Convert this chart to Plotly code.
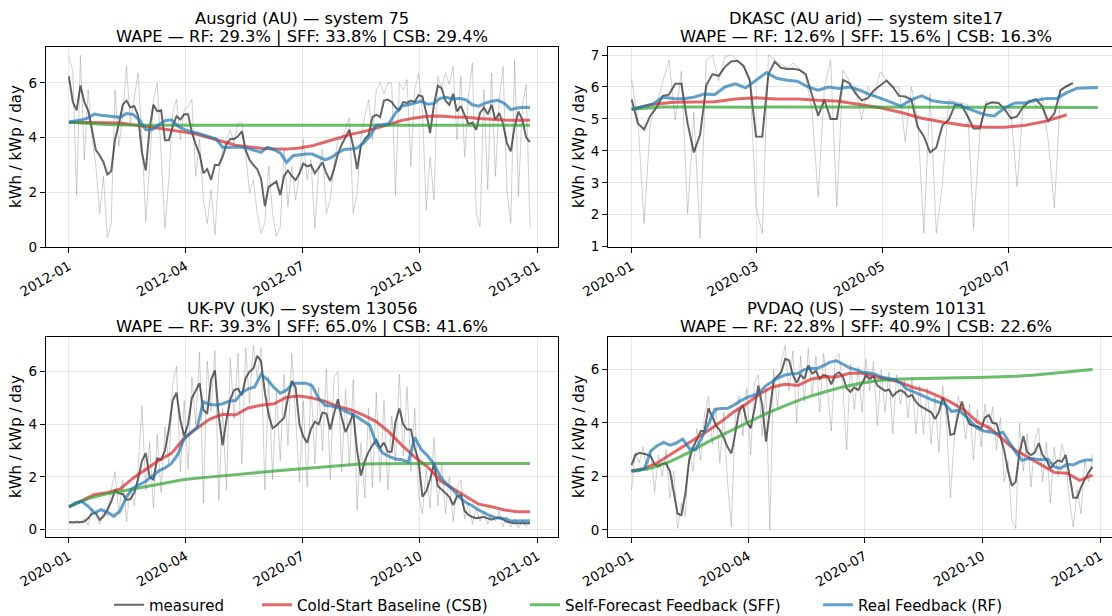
import pandas as pd
import plotly.graph_objects as go

FIG_W, FIG_H = 1112, 616
FONT = "DejaVu Sans"

# sampling interval (days) of each stored series
RAW_STEP, MEAS_STEP, CSB_STEP, SFF_STEP, RF_STEP = 3, 3, 10, 15, 5

# ---------------- Ausgrid (AU), system 75, 2012 ----------------
ausgrid_start = "2012-01-01"
ausgrid_raw = [
    6.97, 6.4, 1.9, 7.0, 3.2, 5.75, 4.05, 3.0, 1.24, 2.58,
    0.33, 0.87, 5.75, 3.68, 4.8, 6.6, 4.53, 5.5, 6.36, 4.0,
    0.94, 3.0, 5.39, 6.0, 3.3, 0.69, 2.46, 4.9, 5.39, 3.93,
    5.02, 5.14, 5.39, 2.58, 3.93, 1.73, 0.87, 2.1, 0.45, 2.7,
    3.56, 3.93, 4.29, 3.8, 4.53, 4.53, 3.44, 1.97, 2.46, 1.24,
    0.51, 0.87, 2.95, 1.24, 0.39, 0.75, 3.56, 1.49, 2.95, 1.73,
    2.7, 3.93, 2.46, 3.2, 0.69, 2.8, 3.56, 1.24, 1.73, 3.0,
    3.93, 3.93, 4.3, 4.72, 1.24, 1.97, 4.0, 4.78, 5.39, 3.93,
    5.75, 6.0, 5.6, 6.0, 6.0, 1.9, 6.0, 5.75, 6.12, 2.95,
    5.75, 6.36, 5.0, 1.36, 3.3, 1.73, 6.24, 5.8, 6.36, 5.94,
    6.6, 3.93, 6.24, 3.3, 5.5, 6.73, 1.24, 0.75, 5.75, 2.1,
    6.36, 2.58, 5.39, 6.6, 2.1, 0.87, 6.85, 1.85, 5.14, 5.94,
    0.69,
]
ausgrid_measured = [
    6.24, 5.3, 5.0, 5.9, 5.3, 5.0, 4.29, 3.55, 3.35, 3.1,
    2.65, 2.77, 3.93, 4.5, 5.2, 5.35, 5.1, 5.15, 4.8, 3.44,
    2.8, 4.35, 5.2, 4.96, 5.0, 3.9, 3.9, 4.4, 4.78, 4.66,
    4.85, 4.85, 4.2, 3.75, 3.4, 2.7, 2.85, 2.46, 3.0, 3.0,
    3.3, 3.75, 3.95, 3.95, 4.05, 4.23, 3.55, 3.19, 3.0, 2.85,
    2.5, 1.5, 2.2, 2.3, 2.4, 1.9, 2.6, 2.8, 2.6, 2.45,
    2.7, 3.05, 2.95, 3.0, 2.7, 2.9, 3.1, 2.7, 2.42, 2.85,
    3.4, 3.75, 4.0, 4.29, 3.68, 2.85, 3.7, 3.95, 4.1, 4.75,
    4.84, 4.75, 5.35, 5.39, 5.3, 5.1, 5.0, 5.3, 5.27, 5.35,
    5.3, 5.55, 5.5, 4.9, 4.17, 5.2, 5.9, 5.8, 5.35, 5.2,
    5.6, 4.96, 5.15, 4.8, 4.5, 4.55, 4.29, 4.9, 5.1, 4.85,
    5.2, 4.65, 4.9, 4.5, 3.8, 3.5, 4.41, 4.95, 4.66, 4.0,
    3.84,
]
ausgrid_csb = [
    4.56, 4.56, 4.55, 4.54, 4.53, 4.48, 4.41, 4.34, 4.28, 4.2,
    4.12, 4.0, 3.86, 3.72, 3.66, 3.61, 3.58, 3.58, 3.62, 3.7,
    3.84, 3.98, 4.12, 4.22, 4.34, 4.48, 4.63, 4.72, 4.78, 4.79,
    4.75, 4.74, 4.7, 4.66, 4.64, 4.63, 4.63,
]
ausgrid_sff = [
    4.56, 4.51, 4.48, 4.46, 4.45, 4.45, 4.45, 4.45, 4.45, 4.45,
    4.45, 4.45, 4.45, 4.45, 4.45, 4.45, 4.45, 4.45, 4.45, 4.45,
    4.45, 4.45, 4.45, 4.45, 4.45,
]
ausgrid_rf = [
    4.56, 4.6, 4.65, 4.72, 4.86, 4.82, 4.8, 4.78, 4.74, 4.88,
    4.85, 4.65, 4.29, 4.3, 4.45, 4.62, 4.65, 4.42, 4.3, 4.22,
    4.17, 4.1, 4.02, 3.95, 3.65, 3.64, 3.66, 3.65, 3.6, 3.54,
    3.46, 3.65, 3.56, 3.44, 3.1, 3.34, 3.38, 3.4, 3.4, 3.29,
    3.19, 3.28, 3.45, 3.57, 3.58, 3.62, 3.8, 4.05, 4.45, 4.47,
    4.52, 4.9, 5.15, 5.2, 5.27, 5.33, 5.22, 5.25, 5.44, 5.47,
    5.4, 5.44, 5.38, 5.2, 5.15, 5.26, 5.33, 5.36, 5.25, 5.02,
    5.08, 5.11, 5.1,
]

# ---------------- DKASC (AU arid), system site17, 2020 ----------------
dkasc_start = "2020-01-01"
dkasc_raw = [
    6.22, 4.97, 1.73, 4.9, 5.4, 6.17, 6.84, 4.97, 6.5, 2.04,
    5.2, 1.26, 6.84, 7.0, 6.2, 6.95, 7.0, 6.84, 6.6, 6.3,
    2.25, 1.42, 7.0, 6.84, 6.7, 6.6, 6.75, 6.55, 6.3, 5.3,
    2.56, 6.0, 6.84, 2.25, 6.53, 6.2, 6.0, 4.97, 6.0, 5.7,
    6.48, 6.2, 6.0, 6.0, 4.29, 6.0, 5.0, 1.42, 5.8, 1.42,
    2.98, 5.6, 5.55, 5.5, 5.45, 1.57, 4.6, 5.55, 5.5, 5.5,
    5.3, 5.25, 2.88, 5.5, 5.6, 5.4, 5.7, 4.34, 2.2, 5.9,
    6.0, 6.2,
]
dkasc_measured = [
    5.61, 4.86, 4.67, 5.1, 5.36, 5.72, 5.76, 6.1, 6.1, 4.85,
    3.95, 4.5, 6.05, 6.4, 6.35, 6.63, 6.8, 6.82, 6.66, 6.2,
    4.45, 4.44, 6.4, 6.79, 6.6, 6.56, 6.57, 6.53, 6.4, 5.78,
    5.1, 5.6, 5.0, 5.0, 6.22, 6.12, 5.8, 5.58, 5.65, 5.9,
    6.06, 6.2, 6.0, 5.72, 5.7, 5.6, 4.75, 4.45, 3.95, 4.1,
    4.8, 4.97, 5.43, 5.45, 5.1, 4.7, 4.7, 5.45, 5.52, 5.5,
    5.3, 5.02, 5.08, 5.38, 5.55, 5.62, 5.4, 4.93, 5.17, 5.9,
    6.03, 6.12,
]
dkasc_csb = [
    5.3, 5.45, 5.52, 5.54, 5.54, 5.62, 5.66, 5.62, 5.62, 5.58,
    5.55, 5.45, 5.35, 5.2, 5.02, 4.9, 4.8, 4.74, 4.74, 4.8,
    4.93, 5.13,
]
dkasc_sff = [
    5.3, 5.37, 5.37, 5.37, 5.36, 5.36, 5.36, 5.36, 5.36, 5.36,
    5.36, 5.36, 5.36, 5.36, 5.36, 5.36,
]
dkasc_rf = [
    5.3, 5.37, 5.46, 5.68, 5.64, 5.63, 5.68, 5.78, 5.76, 6.0,
    6.1, 5.97, 6.2, 6.45, 6.27, 6.21, 6.18, 6.0, 5.9, 6.0,
    5.95, 6.0, 5.9, 5.76, 5.65, 5.53, 5.4, 5.6, 5.72, 5.57,
    5.52, 5.5, 5.38, 5.24, 5.14, 5.09, 5.35, 5.5, 5.5, 5.58,
    5.64, 5.64, 5.82, 5.96, 5.97, 5.98,
]

# ---------------- UK-PV (UK), system 13056, 2020 ----------------
ukpv_start = "2020-01-01"
ukpv_raw = [
    0.3, 0.2, 0.35, 0.25, 0.4, 0.15, 0.8, 0.5, 0.2, 0.7,
    0.5, 1.5, 2.2, 0.6, 1.9, 0.3, 1.6, 0.9, 2.3, 4.7,
    1.5, 3.3, 0.8, 3.6, 1.4, 3.9, 2.5, 5.5, 6.2, 2.2,
    4.9, 2.3, 5.8, 4.0, 6.76, 1.0, 6.4, 4.5, 6.8, 1.1,
    4.6, 1.5, 6.5, 4.2, 6.7, 2.5, 6.9, 4.8, 7.0, 5.8,
    6.9, 1.5, 5.8, 1.9, 5.2, 2.6, 5.9, 3.2, 6.7, 4.3,
    1.8, 4.9, 1.6, 5.6, 2.5, 5.4, 3.0, 6.1, 1.9, 5.8,
    6.0, 2.2, 5.3, 2.4, 5.7, 0.74, 3.3, 1.2, 4.6, 1.6,
    5.2, 1.8, 4.9, 1.5, 4.3, 2.6, 5.9, 2.8, 5.43, 2.2,
    4.6, 1.3, 0.6, 2.3, 0.8, 3.5, 0.9, 2.5, 0.6, 2.0,
    0.3, 1.6, 1.88, 0.4, 1.0, 0.2, 0.8, 0.3, 0.7, 0.2,
    0.6, 0.3, 0.7, 0.1, 0.5, 0.1, 0.4, 0.05, 0.35, 0.1,
    0.3,
]
ukpv_measured = [
    0.27, 0.27, 0.28, 0.27, 0.3, 0.42, 0.6, 0.63, 0.36, 0.5,
    0.75, 1.05, 1.48, 1.37, 1.35, 1.12, 1.15, 1.4, 1.9, 2.6,
    2.9, 2.0, 1.9, 2.7, 2.65, 3.0, 3.8, 4.9, 5.2, 4.15,
    3.55, 4.0, 5.0, 5.28, 5.56, 4.54, 4.4, 5.7, 6.05, 4.3,
    3.2, 4.16, 4.95, 5.3, 5.35, 5.1, 5.75, 6.0, 6.12, 6.6,
    6.4, 5.2, 4.35, 3.85, 3.95, 4.1, 4.25, 5.0, 5.65, 5.4,
    4.0, 3.53, 3.3, 3.82, 4.1, 4.0, 4.45, 4.4, 3.8, 4.4,
    4.95, 4.25, 3.7, 4.03, 4.41, 3.0, 2.05, 2.6, 2.95, 3.2,
    3.4, 3.1, 3.3, 2.95, 2.95, 4.1, 4.6, 4.0, 3.8, 3.8,
    3.1, 2.6, 1.25, 1.45, 1.9, 2.5, 1.65, 1.52, 1.38, 1.24,
    0.93, 1.25, 1.3, 0.7, 0.55, 0.47, 0.43, 0.44, 0.47, 0.42,
    0.37, 0.42, 0.46, 0.38, 0.29, 0.26, 0.23, 0.23, 0.23, 0.23,
    0.23,
]
ukpv_csb = [
    0.86, 1.1, 1.33, 1.4, 1.54, 1.95, 2.27, 2.62, 2.89, 3.46,
    3.85, 4.2, 4.38, 4.35, 4.62, 4.72, 4.78, 5.03, 5.07, 5.0,
    4.87, 4.68, 4.55, 4.35, 4.1, 3.7, 3.2, 2.75, 2.38, 1.85,
    1.55, 1.25, 0.96, 0.86, 0.74, 0.67, 0.67,
]
ukpv_sff = [
    0.86, 1.17, 1.36, 1.5, 1.63, 1.78, 1.9, 1.97, 2.03, 2.1,
    2.17, 2.24, 2.3, 2.37, 2.43, 2.48, 2.5, 2.51, 2.51, 2.51,
    2.51, 2.51, 2.51, 2.51, 2.51,
]
ukpv_rf = [
    0.86, 1.01, 1.07, 0.88, 0.63, 0.75, 0.66, 0.5, 0.7, 1.25,
    1.58, 1.7, 1.83, 2.02, 2.22, 2.34, 2.51, 2.85, 3.45, 3.68,
    3.87, 4.85, 4.75, 4.73, 4.78, 4.88, 4.9, 5.2, 5.35, 5.42,
    5.9, 5.7, 5.4, 5.18, 5.3, 5.56, 5.56, 5.56, 5.46, 4.98,
    4.72, 4.69, 4.63, 4.5, 4.4, 4.28, 4.12, 3.95, 3.25, 2.9,
    2.78, 2.68, 2.65, 2.56, 3.5, 3.05, 2.8, 2.5, 2.0, 1.72,
    1.5, 1.22, 1.02, 0.9, 0.74, 0.6, 0.49, 0.43, 0.41, 0.32,
    0.32, 0.33, 0.33,
]

# ---------------- PVDAQ (US), system 10131, 2020 ----------------
pvdaq_start = "2020-01-01"
pvdaq_raw = [
    1.5, 2.9, 2.5, 3.1, 2.2, 3.0, 1.4, 2.8, 2.0, 3.0,
    1.2, 2.2, 0.05, 1.0, 0.5, 3.0, 2.2, 3.8, 2.6, 4.3,
    5.0, 3.2, 4.6, 2.5, 4.4, 1.8, 0.11, 4.2, 5.0, 3.5,
    5.3, 2.8, 5.5, 5.8, 3.5, 5.3, 0.01, 6.0, 4.6, 6.3,
    6.9, 5.2, 6.7, 4.0, 6.5, 4.8, 6.8, 5.0, 6.5, 4.4,
    6.6, 5.3, 3.7, 6.4, 6.6, 5.3, 3.0, 6.2, 4.5, 6.1,
    4.4, 6.4, 5.2, 6.3, 3.9, 6.0, 4.4, 5.9, 3.6, 5.8,
    4.7, 5.6, 4.2, 5.7, 3.6, 5.4, 3.6, 5.3, 3.2, 5.0,
    2.9, 5.4, 4.0, 1.2, 3.4, 5.0, 4.5, 3.4, 4.7, 2.6,
    4.5, 3.1, 4.7, 3.6, 4.6, 3.0, 4.2, 1.8, 2.6, 0.4,
    0.05, 4.0, 2.2, 3.6, 1.6, 3.4, 3.8, 1.8, 3.3, 1.0,
    3.1, 2.0, 3.2, 2.7, 1.1, 0.1, 1.5, 0.6, 2.6, 1.8,
    2.8,
]
pvdaq_measured = [
    2.42, 2.8, 2.88, 2.85, 2.82, 2.75, 2.45, 2.38, 2.47, 2.48,
    2.2, 1.4, 0.6, 0.55, 1.35, 2.6, 3.1, 3.37, 3.7, 3.7,
    4.55, 4.25, 3.9, 3.73, 3.45, 3.1, 2.86, 3.6, 4.45, 4.67,
    4.05, 3.8, 4.5, 5.4, 4.7, 3.3, 4.4, 5.6, 5.75, 5.9,
    6.4, 6.35, 5.8, 5.5, 5.8, 5.65, 6.15, 5.85, 5.95, 5.65,
    5.8, 5.75, 5.45, 5.8, 5.9, 5.75, 5.3, 5.16, 5.33, 5.23,
    5.48, 5.77, 5.65, 5.75, 5.4, 5.3, 5.2, 5.25, 5.0, 5.15,
    5.23, 5.15, 4.98, 5.05, 4.8, 4.65, 4.57, 4.5, 4.4, 4.15,
    4.4, 4.95, 4.6, 3.55, 3.6, 4.3, 4.8, 4.3, 3.95, 3.9,
    3.88, 3.8, 4.2, 4.3, 4.0, 3.98, 3.5, 2.98, 2.2, 1.65,
    1.8, 2.9, 3.5, 2.9, 2.8, 2.9, 3.25, 2.8, 2.62, 2.3,
    2.48, 2.6, 2.55, 2.8, 2.05, 1.2, 1.2, 1.6, 1.88, 2.15,
    2.36,
]
pvdaq_csb = [
    2.2, 2.3, 2.5, 2.8, 3.12, 3.42, 3.72, 4.05, 4.42, 4.72,
    5.08, 5.35, 5.45, 5.4, 5.64, 5.73, 5.72, 5.86, 5.86, 5.74,
    5.63, 5.52, 5.33, 5.2, 5.0, 4.76, 4.48, 4.04, 3.8, 3.4,
    2.97, 2.71, 2.42, 2.15, 2.12, 1.85, 2.05,
]
pvdaq_sff = [
    2.2, 2.3, 2.55, 2.9, 3.3, 3.65, 4.0, 4.35, 4.65, 4.93,
    5.15, 5.35, 5.5, 5.6, 5.65, 5.67, 5.68, 5.69, 5.7, 5.72,
    5.75, 5.8, 5.86, 5.93, 6.0,
]
pvdaq_rf = [
    2.2, 2.21, 2.28, 2.95, 3.15, 3.27, 3.17, 3.25, 3.4, 3.05,
    3.0, 3.45, 3.95, 4.5, 4.54, 4.55, 4.67, 4.83, 4.95, 5.03,
    5.14, 5.4, 5.55, 5.7, 5.8, 5.84, 5.85, 6.0, 6.05, 6.04,
    6.15, 6.28, 6.33, 6.2, 6.07, 6.0, 5.91, 5.88, 5.83, 5.72,
    5.68, 5.63, 5.5, 5.27, 5.17, 5.08, 4.97, 4.86, 4.77, 4.7,
    4.43, 4.48, 4.3, 4.04, 3.8, 3.7, 3.67, 3.6, 3.65, 3.28,
    2.9, 2.6, 2.67, 2.65, 2.62, 2.65, 2.36, 2.3, 2.45, 2.43,
    2.55, 2.61, 2.61,
]

# ---------------- panel titles ----------------
titles = [
    "Ausgrid (AU) — system 75",
    "DKASC (AU arid) — system site17",
    "UK-PV (UK) — system 13056",
    "PVDAQ (US) — system 10131",
]
wape_lines = [
    "WAPE — RF: 29.3% | SFF: 33.8% | CSB: 29.4%",
    "WAPE — RF: 12.6% | SFF: 15.6% | CSB: 16.3%",
    "WAPE — RF: 39.3% | SFF: 65.0% | CSB: 41.6%",
    "WAPE — RF: 22.8% | SFF: 40.9% | CSB: 22.6%",
]
series_names = ["measured", "Cold-Start Baseline (CSB)",
                "Self-Forecast Feedback (SFF)", "Real Feedback (RF)"]
y_label = "kWh / kWp / day"

# ---------------- styling ----------------
RAW_COLOR = "rgba(128,128,128,0.38)"
MEAS_COLOR = "rgba(0,0,0,0.6)"
CSB_COLOR = "rgba(214,39,40,0.7)"
SFF_COLOR = "rgba(44,160,44,0.7)"
RF_COLOR = "rgba(31,119,180,0.7)"
GRID = "rgba(176,176,176,0.3)"


def px_x(p):
    return p / FIG_W


def px_y(p):
    return 1 - p / FIG_H


# axes boxes in pixels: left, right, top, bottom  (right panels run past the page edge)
LEFT_X = (46.0, 558.3)
RIGHT_X = (608.2, FIG_W)
TOP_Y = (46.7, 247.3)
BOT_Y = (336.7, 537.3)

panels = [
    dict(start=ausgrid_start, raw=ausgrid_raw, meas=ausgrid_measured, csb=ausgrid_csb,
         sff=ausgrid_sff, rf=ausgrid_rf, xbox=LEFT_X, ybox=TOP_Y,
         xspan=(-17.9, 382.1), yrange=[-0.005, 7.32], xdtick="M3", ydtick=2,
         title_x=302, closed=True),
    dict(start=dkasc_start, raw=dkasc_raw, meas=dkasc_measured, csb=dkasc_csb,
         sff=dkasc_sff, rf=dkasc_rf, xbox=RIGHT_X, ybox=TOP_Y,
         xspan=(-11.34, 231.8), yrange=[0.98, 7.26], xdtick="M2", ydtick=1,
         title_x=866, closed=False),
    dict(start=ukpv_start, raw=ukpv_raw, meas=ukpv_measured, csb=ukpv_csb,
         sff=ukpv_sff, rf=ukpv_rf, xbox=LEFT_X, ybox=BOT_Y,
         xspan=(-17.9, 382.1), yrange=[-0.30, 7.33], xdtick="M3", ydtick=2,
         title_x=302, closed=True),
    dict(start=pvdaq_start, raw=pvdaq_raw, meas=pvdaq_measured, csb=pvdaq_csb,
         sff=pvdaq_sff, rf=pvdaq_rf, xbox=RIGHT_X, ybox=BOT_Y,
         xspan=(-18.2, 375.2), yrange=[-0.28, 7.23], xdtick="M3", ydtick=2,
         title_x=866, closed=False),
]


def dates(start, values, step):
    return pd.date_range(start, periods=len(values), freq=f"{step}D")


fig = go.Figure()
layout = dict(
    width=FIG_W, height=FIG_H,
    margin=dict(l=0, r=0, t=0, b=0, autoexpand=False),
    paper_bgcolor="white", plot_bgcolor="white",
    font=dict(family=FONT, color="black", size=13.5),
    annotations=[],
)

legend_keys = ["legend", "legend2", "legend3", "legend4"]
legend_left_px = [109, 257, 525, 818]

for i, p in enumerate(panels):
    n = i + 1
    xa = "x" if n == 1 else f"x{n}"
    ya = "y" if n == 1 else f"y{n}"
    show = (i == 0)

    fig.add_trace(go.Scatter(
        x=dates(p["start"], p["raw"], RAW_STEP), y=p["raw"], mode="lines",
        line=dict(color=RAW_COLOR, width=1), xaxis=xa, yaxis=ya,
        showlegend=False, hoverinfo="skip"))
    styled = [
        (p["meas"], MEAS_STEP, MEAS_COLOR, 2.0),
        (p["csb"], CSB_STEP, CSB_COLOR, 3.0),
        (p["sff"], SFF_STEP, SFF_COLOR, 3.0),
        (p["rf"], RF_STEP, RF_COLOR, 3.0),
    ]
    for k, (vals, step, color, width) in enumerate(styled):
        fig.add_trace(go.Scatter(
            x=dates(p["start"], vals, step), y=vals, mode="lines",
            name=series_names[k], line=dict(color=color, width=width),
            xaxis=xa, yaxis=ya, showlegend=show, legend=legend_keys[k]))

    t0 = pd.Timestamp(p["start"])
    x_lo = t0 + pd.Timedelta(days=p["xspan"][0])
    x_hi = t0 + pd.Timedelta(days=p["xspan"][1])

    axis_common = dict(
        showline=True, linecolor="black", linewidth=1.2,
        ticks="outside", ticklen=5, tickwidth=1.2, tickcolor="black",
        showgrid=True, gridcolor=GRID, gridwidth=1.2, zeroline=False,
        automargin=False,
        tickfont=dict(size=13.5, family=FONT, color="black"),
    )
    layout["xaxis" if n == 1 else f"xaxis{n}"] = dict(
        axis_common, type="date",
        domain=[px_x(p["xbox"][0]), px_x(p["xbox"][1])],
        anchor=ya, range=[str(x_lo), str(x_hi)],
        tick0=p["start"], dtick=p["xdtick"], tickformat="%Y-%m",
        tickangle=-30, mirror=True,
    )
    layout["yaxis" if n == 1 else f"yaxis{n}"] = dict(
        axis_common,
        domain=[px_y(p["ybox"][1]), px_y(p["ybox"][0])],
        anchor=xa, range=p["yrange"], tick0=0, dtick=p["ydtick"],
        mirror=p["closed"],
    )

    top = p["ybox"][0]
    layout["annotations"] += [
        dict(text=titles[i], x=px_x(p["title_x"]), y=px_y(top - 27.8),
             xref="paper", yref="paper", xanchor="center", yanchor="middle",
             showarrow=False, font=dict(size=16.3, family=FONT)),
        dict(text=wape_lines[i], x=px_x(p["title_x"]), y=px_y(top - 10.0),
             xref="paper", yref="paper", xanchor="center", yanchor="middle",
             showarrow=False, font=dict(size=16.3, family=FONT)),
        dict(text=y_label, x=px_x(16 if p["closed"] else 579),
             y=px_y((p["ybox"][0] + p["ybox"][1]) / 2),
             xref="paper", yref="paper", xanchor="center", yanchor="middle",
             textangle=-90, showarrow=False, font=dict(size=15, family=FONT)),
    ]

for key, left in zip(legend_keys, legend_left_px):
    layout[key] = dict(
        x=px_x(left), y=px_y(605), xanchor="left", yanchor="middle",
        orientation="h", bgcolor="rgba(0,0,0,0)", borderwidth=0,
        font=dict(size=15, family=FONT, color="black"),
    )

fig.update_layout(**layout)
fig.write_html("out.html")
